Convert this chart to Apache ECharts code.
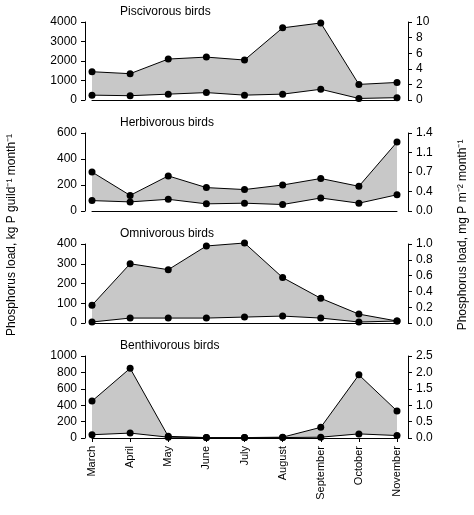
<!DOCTYPE html><html><head><meta charset="utf-8"><script src="https://cdn.jsdelivr.net/npm/echarts@6/dist/echarts.min.js"></script></head><body style="margin:0"><div id="c" style="width:474px;height:515px"></div><script>
const months=['March','April','May','June','July','August','September','October','November'];
const titles=['Piscivorous birds','Herbivorous birds','Omnivorous birds','Benthivorous birds'];
const upper1=[1450,1350,2100,2200,2050,3700,3950,800,900];
const lower1=[250,220,300,380,250,300,550,80,120];
const upper2=[300,120,270,180,165,200,250,190,530];
const lower2=[80,70,90,55,60,50,100,60,125];
const upper3=[90,300,270,390,405,230,125,45,10];
const lower3=[5,25,25,25,30,35,25,5,10];
const upper4=[450,850,20,5,5,10,130,770,330];
const lower4=[40,60,10,5,5,5,10,50,30];
const leftMax=[4000,600,400,1000],leftInt=[1000,200,100,200];
const rightMax=[10,1.4,1.0,2.5],rightInt=[2,0.35,0.2,0.5];
const uppers=[upper1,upper2,upper3,upper4],lowers=[lower1,lower2,lower3,lower4];
const tops=[22,133,244,356],hs=[78,78,79,82];
const grid=[],xAxis=[],yAxis=[],series=[],graphic=[];
const ax={lineStyle:{color:'#000'}};
for(let i=0;i<4;i++){
 grid.push({left:92,right:77,top:tops[i],height:hs[i]});
 xAxis.push({type:'category',gridIndex:i,data:months,boundaryGap:false,axisLine:{show:true,lineStyle:{color:'#000'}},axisTick:{show:i==3,length:4,lineStyle:{color:'#000'}},
  axisLabel:{show:i==3,rotate:90,color:'#000',fontSize:11,fontFamily:'Arial'}});
 yAxis.push({type:'value',gridIndex:i,min:0,max:leftMax[i],interval:leftInt[i],offset:7,axisLine:{show:true,...ax},axisTick:{show:true,length:4,lineStyle:{color:'#000'}},splitLine:{show:false},axisLabel:{color:'#000',fontSize:12,fontFamily:'Arial',formatter:v=>String(v)}});
 yAxis.push({type:'value',gridIndex:i,position:'right',min:0,max:rightMax[i],interval:rightInt[i],offset:11,axisLine:{show:true,...ax},axisTick:{show:true,length:4,lineStyle:{color:'#000'}},splitLine:{show:false},axisLabel:{color:'#000',fontSize:12,fontFamily:'Arial',formatter:v=>i==0?String(v):(v+1e-9).toFixed(1)}});
 const s={type:'line',xAxisIndex:i,yAxisIndex:2*i,symbol:'circle',symbolSize:7,clip:false,itemStyle:{color:'#000'},lineStyle:{color:'#000',width:1},animation:false};
 series.push({...s,data:uppers[i],areaStyle:{color:'#c8c8c8',opacity:1},z:2});
 series.push({...s,data:lowers[i],areaStyle:{color:'#fff',opacity:1},z:3});
 graphic.push({type:'text',left:120,top:tops[i]-16,style:{text:titles[i],fontSize:12,fontFamily:'Arial',fill:'#000'}});
}
graphic.push({type:'text',x:12,y:235,rotation:Math.PI/2,style:{text:'Phosphorus load, kg P guild⁻¹ month⁻¹',fontSize:12,fontFamily:'Arial',fill:'#000',align:'center',verticalAlign:'middle'}});
graphic.push({type:'text',x:463,y:235,rotation:Math.PI/2,style:{text:'Phosphorus load, mg P m⁻² month⁻¹',fontSize:12,fontFamily:'Arial',fill:'#000',align:'center',verticalAlign:'middle'}});
const ch=echarts.init(document.getElementById('c'));
ch.setOption({backgroundColor:'#fff',animation:false,grid,xAxis,yAxis,series,graphic});
</script></body></html>
